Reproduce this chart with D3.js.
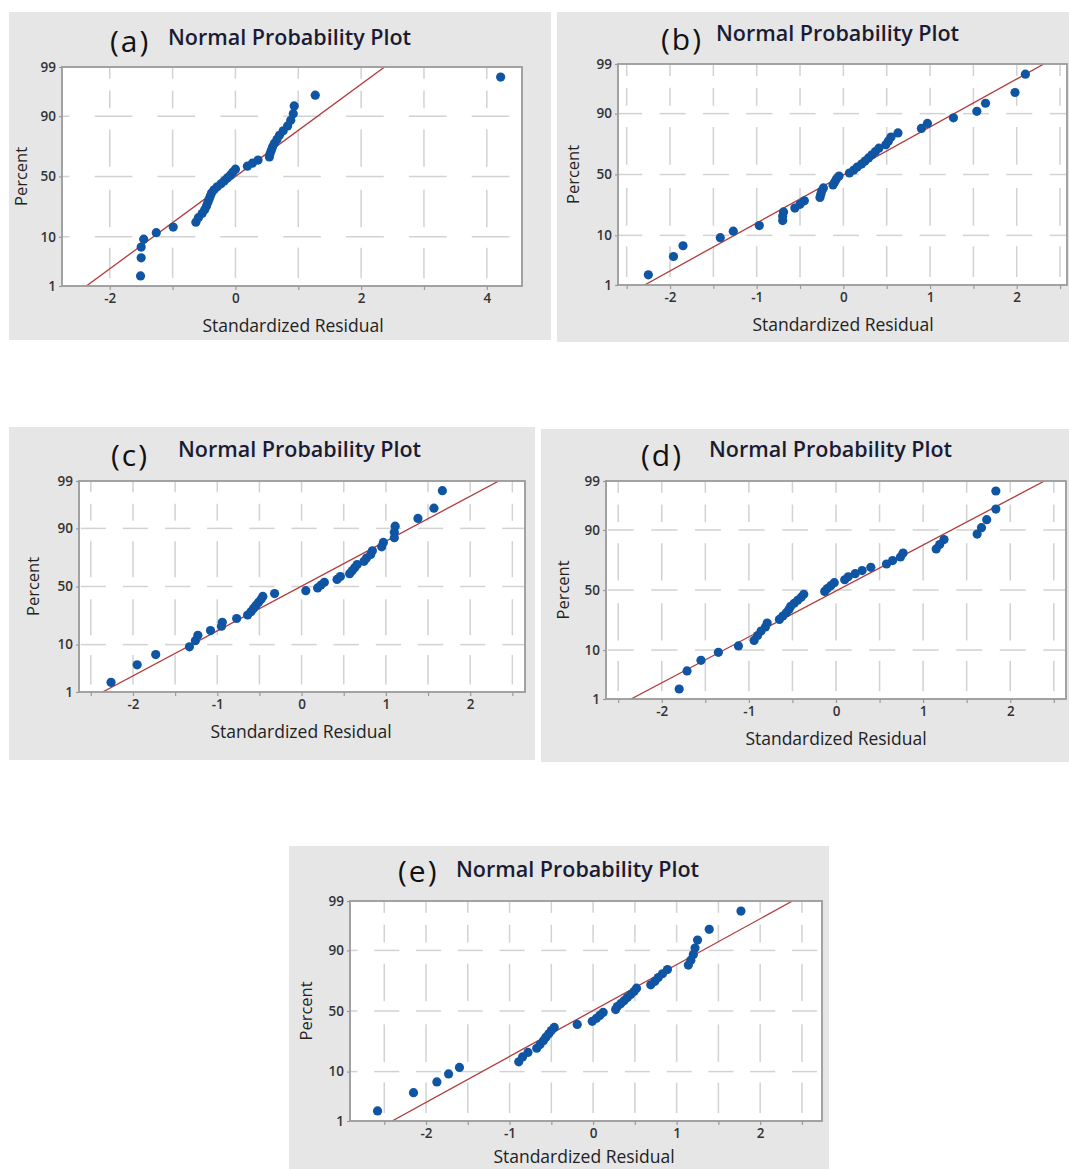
<!DOCTYPE html>
<html>
<head>
<meta charset="utf-8">
<script src="https://cdn.jsdelivr.net/npm/d3@7"></script>
<style>
  html, body { margin: 0; padding: 0; background: #ffffff; }
  svg { display: block; }
  text { font-family: "Open Sans", "Noto Sans", "DejaVu Sans", sans-serif; }
</style>
</head>
<body>
<svg id="fig" width="1069" height="1169"></svg>
<script>
// ---- data ----------------------------------------------------------------
const panelLetters = ["(a)", "(b)", "(c)", "(d)", "(e)"];
const titleText = "Normal Probability Plot";
const xLabelText = "Standardized Residual";
const yLabelText = "Percent";

const percentTicks = [1, 10, 50, 90, 99];
const xTicksA = [-2, 0, 2, 4];
const xTicksOther = [-2, -1, 0, 1, 2];

// plotting positions (percent) of the 40 ordered residuals
const plotPercent = [1.73, 4.21, 6.68, 9.16, 11.63, 14.11, 16.58, 19.06, 21.53, 24.01,
  26.49, 28.96, 31.44, 33.91, 36.39, 38.86, 41.34, 43.81, 46.29, 48.76,
  51.24, 53.71, 56.19, 58.66, 61.14, 63.61, 66.09, 68.56, 71.04, 73.51,
  75.99, 78.47, 80.94, 83.42, 85.89, 88.37, 90.84, 93.32, 95.79, 98.27];

// ordered standardized residuals per model
const residA = [-1.51, -1.50, -1.50, -1.46, -1.26, -0.99, -0.63, -0.59, -0.53, -0.49,
  -0.46, -0.44, -0.42, -0.40, -0.38, -0.34, -0.29, -0.23, -0.18, -0.13,
  -0.08, -0.04, 0.00, 0.19, 0.27, 0.36, 0.54, 0.55, 0.57, 0.59,
  0.62, 0.66, 0.70, 0.76, 0.83, 0.88, 0.92, 0.935, 1.27, 4.22];
const residB = [-2.25, -1.96, -1.85, -1.42, -1.27, -0.97, -0.70, -0.70, -0.69, -0.56,
  -0.50, -0.45, -0.27, -0.26, -0.25, -0.23, -0.12, -0.10, -0.08, -0.05,
  0.07, 0.12, 0.16, 0.21, 0.25, 0.29, 0.33, 0.37, 0.41, 0.49,
  0.52, 0.55, 0.63, 0.90, 0.97, 1.27, 1.54, 1.64, 1.98, 2.10];
const residC = [-2.26, -1.95, -1.73, -1.33, -1.26, -1.23, -1.08, -0.95, -0.94, -0.77,
  -0.64, -0.60, -0.57, -0.54, -0.51, -0.48, -0.46, -0.32, 0.05, 0.19,
  0.23, 0.27, 0.42, 0.46, 0.57, 0.60, 0.63, 0.66, 0.74, 0.77,
  0.82, 0.84, 0.95, 0.97, 1.10, 1.10, 1.11, 1.38, 1.57, 1.67];
const residD = [-1.80, -1.71, -1.55, -1.35, -1.12, -0.94, -0.90, -0.86, -0.81, -0.79,
  -0.65, -0.61, -0.57, -0.54, -0.52, -0.48, -0.44, -0.40, -0.37, -0.13,
  -0.10, -0.06, -0.02, 0.10, 0.14, 0.22, 0.30, 0.40, 0.58, 0.65,
  0.74, 0.77, 1.15, 1.19, 1.24, 1.62, 1.67, 1.73, 1.835, 1.835];
const residE = [-2.58, -2.15, -1.87, -1.73, -1.60, -0.89, -0.845, -0.78, -0.675, -0.635,
  -0.595, -0.565, -0.53, -0.50, -0.465, -0.19, -0.01, 0.04, 0.08, 0.12,
  0.27, 0.29, 0.33, 0.37, 0.41, 0.45, 0.49, 0.52, 0.69, 0.74,
  0.78, 0.83, 0.89, 1.14, 1.17, 1.20, 1.22, 1.25, 1.39, 1.77];

// fitted normal reference line: residual = mean + sd * z
const fitMean = [0.00, 0.01, -0.01, 0.02, -0.01];
const fitSd = [1.02, 0.99, 1.01, 1.02, 1.03];

const xDomains = [[-2.76, 4.56], [-2.6, 2.58], [-2.64, 2.65], [-2.64, 2.64], [-2.91, 2.74]];
const gridSteps = [1, 0.5, 0.5, 0.5, 0.5];

// ---- layout ----------------------------------------------------------------
const layout = [
  { bg: [9, 12, 551, 340],     frame: [62, 67, 522, 286],    letterX: 110, letterY: 52,  titleX: 168, titleY: 45,  yLabX: 21,  xLabX: 293, xLabDy: 46 },
  { bg: [557, 12, 1069, 342],  frame: [618, 64, 1067, 285],  letterX: 661, letterY: 50,  titleX: 716, titleY: 41,  yLabX: 573, xLabX: 843, xLabDy: 46 },
  { bg: [9, 427, 535, 760],    frame: [79, 481, 525, 692],   letterX: 111, letterY: 466, titleX: 178, titleY: 457, yLabX: 33,  xLabX: 301, xLabDy: 46 },
  { bg: [541, 429, 1069, 762], frame: [606, 481, 1066, 699], letterX: 641, letterY: 466, titleX: 709, titleY: 457, yLabX: 563, xLabX: 836, xLabDy: 46 },
  { bg: [289, 846, 829, 1169], frame: [350, 901, 822, 1121], letterX: 398, letterY: 882, titleX: 456, titleY: 877, yLabX: 306, xLabX: 584, xLabDy: 42 }
];

const residuals = [residA, residB, residC, residD, residE];

const colors = {
  panel: "#e6e6e6", frame: "#9a9a9a", grid: "#d2d2d2", point: "#0f55a3",
  line: "#b23a3a", tick: "#333333", title: "#1b1b33", letter: "#111111"
};

// inverse standard normal CDF (Acklam's rational approximation)
function probit(p) {
  const a = [-3.969683028665376e+01, 2.209460984245205e+02, -2.759285104469687e+02,
    1.383577518672690e+02, -3.066479806614716e+01, 2.506628277459239e+00];
  const b = [-5.447609879822406e+01, 1.615858368580409e+02, -1.556989798598866e+02,
    6.680131188771972e+01, -1.328068155288572e+01];
  const c = [-7.784894002430293e-03, -3.223964580411365e-01, -2.400758277161838e+00,
    -2.549732539343734e+00, 4.374664141464968e+00, 2.938163982698783e+00];
  const d = [7.784695709041462e-03, 3.224671290700398e-01, 2.445134137142996e+00,
    3.754408661907416e+00];
  const pl = 0.02425, ph = 1 - pl;
  let q, r;
  if (p < pl) {
    q = Math.sqrt(-2 * Math.log(p));
    return (((((c[0] * q + c[1]) * q + c[2]) * q + c[3]) * q + c[4]) * q + c[5]) /
      ((((d[0] * q + d[1]) * q + d[2]) * q + d[3]) * q + 1);
  }
  if (p <= ph) {
    q = p - 0.5; r = q * q;
    return (((((a[0] * r + a[1]) * r + a[2]) * r + a[3]) * r + a[4]) * r + a[5]) * q /
      (((((b[0] * r + b[1]) * r + b[2]) * r + b[3]) * r + b[4]) * r + 1);
  }
  q = Math.sqrt(-2 * Math.log(1 - p));
  return -(((((c[0] * q + c[1]) * q + c[2]) * q + c[3]) * q + c[4]) * q + c[5]) /
    ((((d[0] * q + d[1]) * q + d[2]) * q + d[3]) * q + 1);
}

const svg = d3.select("#fig");
const fmtTick = d => String(d);

layout.forEach((L, k) => {
  const [fx0, fy0, fx1, fy1] = L.frame;
  const g = svg.append("g");

  // panel background
  g.append("rect")
    .attr("x", L.bg[0]).attr("y", L.bg[1])
    .attr("width", L.bg[2] - L.bg[0]).attr("height", L.bg[3] - L.bg[1])
    .attr("fill", colors.panel);

  const x = d3.scaleLinear().domain(xDomains[k]).range([fx0, fx1]);
  const zMin = probit(percentTicks[0] / 100), zMax = probit(percentTicks[percentTicks.length - 1] / 100);
  const y = d3.scaleLinear().domain([zMin, zMax]).range([fy1, fy0]);
  const yP = p => y(probit(p / 100));

  const clipId = "clip" + k;
  g.append("clipPath").attr("id", clipId)
    .append("rect").attr("x", fx0).attr("y", fy0).attr("width", fx1 - fx0).attr("height", fy1 - fy0);

  // plot area
  g.append("rect")
    .attr("x", fx0).attr("y", fy0).attr("width", fx1 - fx0).attr("height", fy1 - fy0)
    .attr("fill", "#ffffff");

  const plot = g.append("g").attr("clip-path", `url(#${clipId})`);

  // grid positions
  const step = gridSteps[k];
  const gridX = d3.range(Math.ceil(xDomains[k][0] / step) * step, xDomains[k][1] + 1e-9, step)
    .map(v => Math.round(v * 100) / 100);
  const sx = x(step) - x(0);
  const innerP = percentTicks.slice(1, -1);

  // horizontal dashed grid: a dash straddling each vertical grid position
  const hSegs = [];
  innerP.forEach(p => {
    gridX.concat([gridX[0] - step, gridX[gridX.length - 1] + step]).forEach(v => {
      hSegs.push({ x1: x(v) - 0.24 * sx, x2: x(v) + 0.36 * sx, y: yP(p) });
    });
  });
  plot.selectAll(".hgrid").data(hSegs).join("line")
    .attr("x1", d => d.x1).attr("x2", d => d.x2)
    .attr("y1", d => d.y).attr("y2", d => d.y)
    .attr("stroke", colors.grid).attr("stroke-width", 1.5);

  // vertical dashed grid: pieces between the horizontal grid rows
  const rows = [fy0].concat(innerP.slice().reverse().map(yP)).concat([fy1]);
  const vSegs = [];
  gridX.forEach(v => {
    for (let i = 0; i < rows.length - 1; i++) {
      const a = rows[i], h = rows[i + 1] - rows[i];
      if (i === 0) {
        vSegs.push({ x: x(v), y1: a + 0.02 * h, y2: a + 0.24 * h });
        vSegs.push({ x: x(v), y1: a + 0.48 * h, y2: a + 0.84 * h });
      } else {
        vSegs.push({ x: x(v), y1: a + 0.22 * h, y2: a + 0.84 * h });
      }
    }
  });
  plot.selectAll(".vgrid").data(vSegs).join("line")
    .attr("x1", d => d.x).attr("x2", d => d.x)
    .attr("y1", d => d.y1).attr("y2", d => d.y2)
    .attr("stroke", colors.grid).attr("stroke-width", 1.5);

  // fitted reference line
  plot.append("line")
    .attr("x1", x(fitMean[k] + fitSd[k] * zMin)).attr("y1", y(zMin))
    .attr("x2", x(fitMean[k] + fitSd[k] * zMax)).attr("y2", y(zMax))
    .attr("stroke", colors.line).attr("stroke-width", 1.3);

  // residual points
  const pts = residuals[k].map((r, i) => ({ r, p: plotPercent[i] }));
  g.append("g").selectAll("circle").data(pts).join("circle")
    .attr("cx", d => x(d.r)).attr("cy", d => yP(d.p))
    .attr("r", 4.6).attr("fill", colors.point);

  // frame
  g.append("rect")
    .attr("x", fx0).attr("y", fy0).attr("width", fx1 - fx0).attr("height", fy1 - fy0)
    .attr("fill", "none").attr("stroke", colors.frame).attr("stroke-width", 1.8);

  // axes
  const labelled = k === 0 ? xTicksA : xTicksOther;
  const xAxis = d3.axisBottom(x).tickValues(gridX).tickSize(4).tickPadding(3)
    .tickFormat(d => labelled.includes(d) ? fmtTick(d) : "");
  const gx = g.append("g").attr("transform", `translate(0,${fy1})`).call(xAxis);
  const zTicks = percentTicks.map(p => probit(p / 100));
  const yAxis = d3.axisLeft(y).tickValues(zTicks).tickSize(3).tickPadding(3)
    .tickFormat((d, i) => percentTicks[i]);
  const gy = g.append("g").attr("transform", `translate(${fx0},0)`).call(yAxis);
  [gx, gy].forEach(ax => {
    ax.select(".domain").remove();
    ax.selectAll(".tick line").attr("stroke", colors.frame).attr("stroke-width", 1.2);
    ax.selectAll(".tick text")
      .attr("fill", colors.tick).attr("font-size", 13.5).attr("font-weight", 600)
      .style("font-family", '"Open Sans", "Noto Sans", sans-serif');
  });

  // titles
  g.append("text").attr("x", L.letterX).attr("y", L.letterY)
    .attr("font-size", 30).attr("letter-spacing", 2).attr("fill", colors.letter)
    .text(panelLetters[k]);
  g.append("text").attr("x", L.titleX).attr("y", L.titleY)
    .attr("font-size", 21.5).attr("font-weight", 600).attr("fill", colors.title)
    .text(titleText);

  // axis labels
  g.append("text")
    .attr("x", L.xLabX).attr("y", fy1 + L.xLabDy)
    .attr("text-anchor", "middle").attr("font-size", 17.5).attr("fill", "#222222")
    .text(xLabelText);
  g.append("text")
    .attr("transform", `translate(${L.yLabX + 6},${(fy0 + fy1) / 2}) rotate(-90)`)
    .attr("text-anchor", "middle").attr("font-size", 16.5).attr("fill", "#222222")
    .text(yLabelText);
});
</script>
</body>
</html>
